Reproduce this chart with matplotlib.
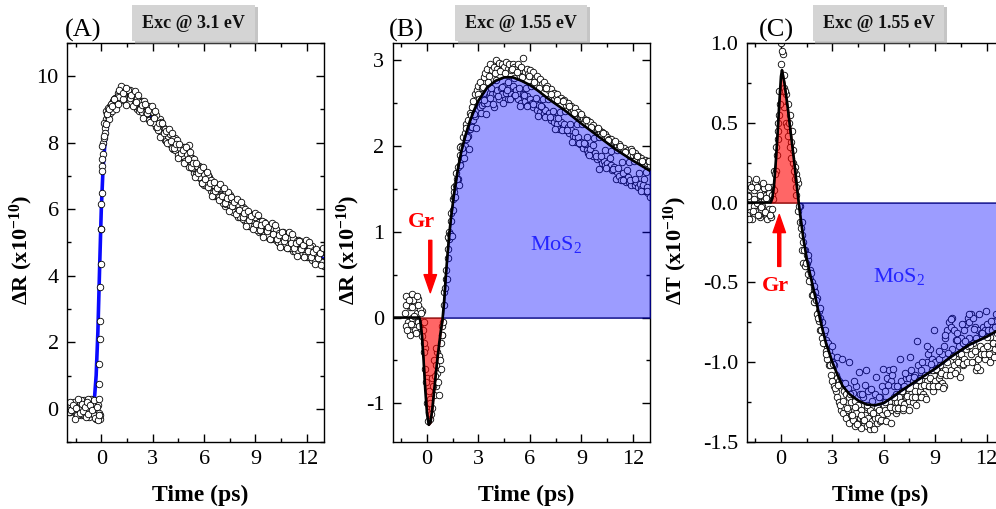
import numpy as np
import matplotlib
matplotlib.use("Agg")
import matplotlib.pyplot as plt
from matplotlib import patheffects
from matplotlib.ticker import MultipleLocator, FormatStrFormatter

NA = np.nan

# ─── Data ─────────────────────────────────────────────────────────────────────
# pump-probe delay grids (ps): scans 1/2 on DELAY, scan 3 on DELAY_MID
DELAY = [
    -2.0, -1.9, -1.8, -1.7, -1.6, -1.5, -1.4, -1.3, -1.2, -1.1,
    -1.0, -0.9, -0.8, -0.7, -0.6, -0.5, -0.4, -0.3, -0.2, -0.1,
    0.0, 0.1, 0.2, 0.3, 0.4, 0.5, 0.6, 0.7, 0.8, 0.9,
    1.0, 1.1, 1.2, 1.3, 1.4, 1.5, 1.6, 1.7, 1.8, 1.9,
    2.0, 2.1, 2.2, 2.3, 2.4, 2.5, 2.6, 2.7, 2.8, 2.9,
    3.0, 3.1, 3.2, 3.3, 3.4, 3.5, 3.6, 3.7, 3.8, 3.9,
    4.0, 4.1, 4.2, 4.3, 4.4, 4.5, 4.6, 4.7, 4.8, 4.9,
    5.0, 5.1, 5.2, 5.3, 5.4, 5.5, 5.6, 5.7, 5.8, 5.9,
    6.0, 6.1, 6.2, 6.3, 6.4, 6.5, 6.6, 6.7, 6.8, 6.9,
    7.0, 7.1, 7.2, 7.3, 7.4, 7.5, 7.6, 7.7, 7.8, 7.9,
    8.0, 8.1, 8.2, 8.3, 8.4, 8.5, 8.6, 8.7, 8.8, 8.9,
    9.0, 9.1, 9.2, 9.3, 9.4, 9.5, 9.6, 9.7, 9.8, 9.9,
    10.0, 10.1, 10.2, 10.3, 10.4, 10.5, 10.6, 10.7, 10.8, 10.9,
    11.0, 11.1, 11.2, 11.3, 11.4, 11.5, 11.6, 11.7, 11.8, 11.9,
    12.0, 12.1, 12.2, 12.3, 12.4, 12.5, 12.6, 12.7, 12.8, 12.9,
    13.0,
]
DELAY_MID = [
    -1.95, -1.85, -1.75, -1.65, -1.55, -1.45, -1.35, -1.25, -1.15, -1.05,
    -0.95, -0.85, -0.75, -0.65, -0.55, -0.45, -0.35, -0.25, -0.15, -0.05,
    0.05, 0.15, 0.25, 0.35, 0.45, 0.55, 0.65, 0.75, 0.85, 0.95,
    1.05, 1.15, 1.25, 1.35, 1.45, 1.55, 1.65, 1.75, 1.85, 1.95,
    2.05, 2.15, 2.25, 2.35, 2.45, 2.55, 2.65, 2.75, 2.85, 2.95,
    3.05, 3.15, 3.25, 3.35, 3.45, 3.55, 3.65, 3.75, 3.85, 3.95,
    4.05, 4.15, 4.25, 4.35, 4.45, 4.55, 4.65, 4.75, 4.85, 4.95,
    5.05, 5.15, 5.25, 5.35, 5.45, 5.55, 5.65, 5.75, 5.85, 5.95,
    6.05, 6.15, 6.25, 6.35, 6.45, 6.55, 6.65, 6.75, 6.85, 6.95,
    7.05, 7.15, 7.25, 7.35, 7.45, 7.55, 7.65, 7.75, 7.85, 7.95,
    8.05, 8.15, 8.25, 8.35, 8.45, 8.55, 8.65, 8.75, 8.85, 8.95,
    9.05, 9.15, 9.25, 9.35, 9.45, 9.55, 9.65, 9.75, 9.85, 9.95,
    10.05, 10.15, 10.25, 10.35, 10.45, 10.55, 10.65, 10.75, 10.85, 10.95,
    11.05, 11.15, 11.25, 11.35, 11.45, 11.55, 11.65, 11.75, 11.85, 11.95,
    12.05, 12.15, 12.25, 12.35, 12.45, 12.55, 12.65, 12.75, 12.85, 12.95,
]

# (A) dR, exc 3.1 eV  (x1e-10)
A_SCAN1 = [
    NA, 0.05, -0.1, 0.15, 0.0, -0.15, 0.2, 0.1, -0.2, 0.05,
    0.25, -0.05, 0.1, -0.25, 0.3, 0.0, -0.1, 0.15, -0.25, 2.1,
    6.15, 7.65, 8.45, 8.7, 8.8, 9.1, 9.0, 9.25, 9.1, 9.3,
    9.50, 9.30, 9.63, 9.40, 9.54, 9.22, 9.44, 9.58, 9.17, 9.29,
    9.37, 9.02, 9.23, 9.05, 9.26, 8.89, 9.10, 8.93, 8.67, 8.92,
    8.72, 8.88, 8.48, 8.62, 8.70, 8.33, 8.48, 8.09, 8.31, 8.36,
    7.97, 8.09, 7.80, 8.15, 7.82, 7.92, 7.56, 7.86, 7.65, 7.80,
    7.39, 7.93, 7.32, 7.54, 7.10, 7.34, 7.12, 7.31, 6.90, 7.07,
    6.73, 7.03, 6.78, 6.98, 6.55, 6.74, 6.41, 6.70, 6.43, 6.68,
    6.28, 6.44, 6.09, 6.45, 6.21, 6.42, 5.97, 6.23, 5.94, 6.22,
    5.78, 6.04, 5.82, 6.07, 5.65, 5.84, 5.50, 5.86, 5.61, 5.82,
    5.43, 5.65, 5.32, 5.64, 5.41, 5.63, 5.22, 5.45, 5.12, 5.43,
    5.18, 5.45, 5.07, 5.25, 4.97, 5.29, 5.06, 5.26, 4.86, 5.13,
    4.85, 5.10, 4.75, 4.98, 4.80, 5.08, 4.67, 4.93, 4.75, 4.96,
    4.55, 4.85, 4.60, 4.88, 4.50, 4.68, 4.40, 4.73, 4.45, 4.71,
    4.28,
]
A_SCAN2 = [
    NA, -0.1, 0.15, -0.05, 0.2, 0.05, -0.2, 0.0, 0.25, -0.15,
    0.1, -0.25, 0.3, 0.0, -0.1, 0.15, -0.2, -0.3, 0.1, -0.3,
    5.4, 8.0, 8.3, 8.95, 9.05, 8.9, 9.2, 9.05, 9.35, 9.2,
    9.25, 9.55, 9.28, 9.65, 9.34, 9.60, 9.19, 9.41, 9.47, 9.09,
    9.30, 9.35, 8.95, 9.23, 8.91, 9.26, 8.86, 9.09, 8.92, 8.62,
    8.92, 8.58, 8.83, 8.37, 8.55, 8.61, 8.21, 8.41, 8.05, 8.21,
    8.27, 7.84, 8.10, 7.78, 8.07, 7.64, 7.84, 7.59, 7.87, 7.45,
    7.66, 7.28, 7.57, 7.24, 7.50, 7.06, 7.29, 6.96, 7.23, 6.79,
    7.05, 6.73, 7.03, 6.66, 6.88, 6.48, 6.73, 6.43, 6.71, 6.36,
    6.63, 6.19, 6.46, 6.15, 6.51, 6.12, 6.32, 5.93, 6.21, 5.89,
    6.15, 5.76, 6.04, 5.72, 6.01, 5.59, 5.85, 5.51, 5.81, 5.50,
    5.78, 5.37, 5.62, 5.34, 5.64, 5.23, 5.52, 5.22, 5.49, 5.11,
    5.43, 5.13, 5.40, 5.00, 5.29, 4.99, 5.31, 4.96, 5.21, 4.83,
    5.12, 4.83, 5.13, 4.73, 5.05, 4.76, 5.05, 4.63, 4.95, 4.63,
    4.95, 4.55, 4.85, 4.48, 4.77, 4.45, 4.75, 4.38, 4.70, 4.41,
    4.70,
]
A_SCAN3 = [
    NA, 0.2, -0.05, 0.1, -0.3, 0.02, 0.28, -0.12, 0.15, -0.08,
    0.05, 0.2, -0.15, 0.12, -0.05, 0.25, -0.28, 0.05, -0.12, -0.2,
    7.3, 8.15, 8.6, 8.85, 8.7, 9.15, 8.95, 9.3, 9.0, 9.4,
    9.38, 9.70, 9.32, 9.50, 9.13, 9.59, 9.33, 9.44, 9.09, 9.57,
    9.22, 9.45, 9.01, 9.13, 8.73, 9.16, 8.88, 8.99, 8.62, 9.10,
    8.73, 8.94, 8.48, 8.58, 8.16, 8.58, 8.28, 8.36, 7.98, 8.42,
    8.06, 8.29, 7.83, 7.95, 7.54, 7.97, 7.68, 7.78, 7.40, 7.87,
    7.51, 7.73, 7.27, 7.38, 6.97, 7.38, 7.09, 7.18, 6.80, 7.26,
    6.90, 7.13, 6.68, 6.80, 6.40, 6.83, 6.55, 6.65, 6.28, 6.75,
    6.41, 6.64, 6.20, 6.33, 5.94, 6.38, 6.10, 6.21, 5.85, 6.32,
    5.98, 6.22, 5.78, 5.90, 5.51, 5.95, 5.68, 5.79, 5.42, 5.90,
    5.57, 5.82, 5.39, 5.53, 5.15, 5.60, 5.34, 5.46, 5.11, 5.60,
    5.27, 5.52, 5.09, 5.24, 4.86, 5.31, 5.05, 5.17, 4.83, 5.32,
    4.99, 5.25, 4.82, 4.97, 4.59, 5.05, 4.79, 4.92, 4.57, 5.07,
    4.74, 5.00, 4.57, 4.72, 4.34, 4.80, 4.54, 4.67, 4.32, 4.82,
]
# extra points on the steep rise of (A)
A_RISE_T = [-0.2, -0.15, -0.14, -0.12, -0.12, -0.08, -0.06, -0.04, -0.02, 0.02,
            0.04, 0.03, 0.06, 0.13, 0.15, 0.25, 0.35, 0.45, 0.6, 0.75,
            0.95, 1.05, 1.25, 1.45]
A_RISE_V = [-0.35, -0.2, 0.3, 0.75, 1.35, 2.65, 3.65, 4.35, 5.4, 6.5,
            7.15, 7.5, 7.9, 8.2, 8.6, 8.55, 8.85, 9.0, 9.1, 9.3,
            9.15, 9.6, 9.5, 9.65]
A_FIT_T = [-2.0, -0.5, -0.4, -0.3, -0.2, -0.1, 0.0, 0.1, 0.2, 0.3, 0.5, 0.7, 0.9, 1.2,
           1.5, 2.0, 2.5, 3.0, 4.0, 5.0, 6.0, 7.0, 8.0, 9.0, 10.0, 11.0, 12.0, 13.0]
A_FIT_V = [0.0, 0.0, 0.3, 1.0, 2.3, 4.2, 6.0, 7.2, 7.9, 8.35, 8.85, 9.1, 9.25, 9.35,
           9.33, 9.2, 8.98, 8.75, 8.15, 7.6, 7.05, 6.6, 6.15, 5.75, 5.4, 5.08, 4.78, 4.5]

# (B) dR, exc 1.55 eV  (x1e-10)
B_SCAN1 = [
    NA, NA, NA, NA, NA, NA, NA, 0.05, 0.25, -0.05,
    0.12, 0.28, -0.1, 0.18, 0.05, 0.22, -0.12, 0.08, -0.05, -0.35,
    -0.7, -1.1, -1.18, -1.05, -0.9, -0.8, -0.65, -0.9, -0.6, -0.2,
    0.15, 0.55, 0.8, 1.0, 1.22, 1.38, 1.52, 1.68, 1.75, 1.9,
    2.0, 2.1, 2.15, 2.25, 2.3, 2.38, 2.45, 2.52, 2.6, 2.65,
    2.7, 2.75, 2.68, 2.8, 2.85, 2.9, 2.82, 2.95, 2.88, 2.92,
    3.0, 2.9, 2.97, 2.88, 2.95, 2.92, 2.98, 2.9, 2.96, 2.88,
    2.95, 2.92, 2.9, 2.96, 2.88, 2.92, 3.02, 2.86, 2.9, 2.84,
    2.88, 2.82, 2.86, 2.78, 2.82, 2.75, 2.78, 2.72, 2.74, 2.68,
    2.7, 2.65, 2.66, 2.6, 2.62, 2.58, 2.6, 2.55, 2.56, 2.52,
    2.54, 2.48, 2.5, 2.45, 2.46, 2.42, 2.44, 2.38, 2.4, 2.35,
    2.36, 2.32, 2.3, 2.3, 2.26, 2.28, 2.22, 2.24, 2.2, 2.2,
    2.18, 2.15, 2.16, 2.12, 2.14, 2.1, 2.08, 2.08, 2.04, 2.05,
    2.02, 2.0, 2.02, 1.98, 1.96, 1.98, 1.94, 1.95, 1.9, 1.96,
    1.9, 1.92, 1.86, 1.88, 1.84, 1.86, 1.82, 1.84, 1.8, 1.82,
    1.78,
]
B_SCAN2 = [
    NA, NA, NA, NA, NA, NA, NA, NA, -0.1, 0.15,
    -0.2, 0.0, 0.2, -0.15, 0.25, -0.05, 0.1, -0.22, -0.3, -0.6,
    -1.0, -0.85, -0.95, -0.7, -0.5, -0.55, -0.4, -0.45, -0.3, -0.1,
    0.3, 0.45, 0.7, 0.92, 1.12, 1.25, 1.40, 1.55, 1.62, 1.78,
    1.85, 1.93, 2.0, 2.08, 2.12, 2.2, 2.22, 2.3, 2.35, 2.38,
    2.42, 2.45, 2.48, 2.5, 2.55, 2.5, 2.58, 2.62, 2.6, 2.45,
    2.62, 2.65, 2.55, 2.68, 2.6, 2.7, 2.62, 2.55, 2.68, 2.6,
    2.7, 2.58, 2.65, 2.55, 2.62, 2.5, 2.6, 2.52, 2.58, 2.48,
    2.55, 2.5, 2.45, 2.52, 2.42, 2.48, 2.4, 2.45, 2.38, 2.42,
    2.35, 2.38, 2.3, 2.35, 2.28, 2.32, 2.25, 2.2, 2.28, 2.22,
    2.25, 2.18, 2.22, 2.15, 2.18, 2.12, 2.1, 2.05, 2.1, 2.02,
    2.05, 1.98, 2.02, 1.95, 1.92, 1.96, 1.9, 1.88, 1.92, 1.85,
    1.73, 1.86, 1.8, 1.82, 1.78, 1.8, 1.75, 1.78, 1.72, 1.75,
    1.62, 1.7, 1.65, 1.6, 1.68, 1.62, 1.58, 1.64, 1.58, 1.55,
    1.6, 1.55, 1.58, 1.52, 1.56, 1.5, 1.54, 1.48, 1.52, 1.45,
    1.4,
]
B_SCAN3 = [
    NA, NA, NA, NA, NA, NA, NA, 0.15, -0.15, 0.2,
    -0.08, 0.12, 0.02, -0.18, 0.15, -0.1, 0.05, -0.15, -0.4, -0.75,
    -1.2, -1.0, -1.12, -0.8, -0.68, -0.35, -0.75, -0.5, -0.2, -0.05,
    0.35, 0.45, 0.94, 0.97, 0.95, 1.46, 1.40, 1.62, 1.54, 1.99,
    1.98, 1.86, 2.21, 2.10, 1.96, 2.36, 2.22, 2.37, 2.21, 2.61,
    2.55, 2.38, 2.69, 2.54, 2.37, 2.74, 2.56, 2.67, 2.49, 2.85,
    2.77, 2.58, 2.87, 2.69, 2.50, 2.85, 2.65, 2.75, 2.55, 2.90,
    2.79, 2.59, 2.86, 2.67, 2.46, 2.80, 2.59, 2.68, 2.47, 2.81,
    2.70, 2.49, 2.75, 2.56, 2.35, 2.68, 2.47, 2.55, 2.34, 2.67,
    2.55, 2.34, 2.60, 2.41, 2.20, 2.53, 2.32, 2.40, 2.19, 2.52,
    2.41, 2.19, 2.46, 2.26, 2.05, 2.38, 2.16, 2.25, 2.03, 2.37,
    2.25, 2.03, 2.30, 2.10, 1.89, 2.22, 2.01, 2.09, 1.88, 2.21,
    2.10, 1.88, 2.15, 1.95, 1.74, 2.07, 1.86, 1.94, 1.73, 2.06,
    1.95, 1.74, 2.00, 1.81, 1.60, 1.93, 1.72, 1.81, 1.60, 1.94,
    1.82, 1.61, 1.88, 1.69, 1.48, 1.82, 1.61, 1.70, 1.48, 1.82,
]
B_FIT_T = [-2.0, -0.45, -0.4, -0.3, -0.2, -0.1, 0.0, 0.1, 0.2, 0.3, 0.4, 0.5, 0.6, 0.7,
           0.8, 0.9, 1.0, 1.1, 1.2, 1.3, 1.4, 1.6, 1.8, 2.0, 2.25, 2.5, 2.75, 3.0,
           3.5, 4.0, 4.5, 5.0, 5.5, 6.0, 6.5, 7.0, 8.0, 9.0, 10.0, 11.0, 12.0, 13.0]
B_FIT_V = [0.0, 0.0, -0.03, -0.2, -0.5, -0.85, -1.12, -1.25, -1.22, -1.08, -0.88, -0.68,
           -0.49, -0.32, -0.16, -0.03, 0.2, 0.5, 0.75, 0.98, 1.17, 1.48, 1.73, 1.94,
           2.13, 2.29, 2.42, 2.53, 2.68, 2.76, 2.8, 2.8, 2.76, 2.71, 2.64, 2.56,
           2.42, 2.26, 2.11, 1.96, 1.83, 1.71]

# (C) dT, exc 1.55 eV  (x1e-10)
C_SCAN1 = [
    0.12, 0.05, -0.06, 0.1, -0.02, 0.13, 0.0, 0.07, -0.09, 0.11,
    0.02, -0.07, 0.08, -0.04, 0.03, 0.1, 0.2, 0.35, 0.5, 0.7,
    1.0, 0.93, 0.8, 0.68, 0.62, 0.45, 0.38, 0.25, 0.15, 0.05,
    -0.05, -0.12, -0.2, -0.25, -0.3, -0.38, -0.45, -0.48, -0.5, -0.55,
    -0.62, -0.6, -0.68, -0.72, -0.75, -0.82, -0.86, -0.9, -0.93, -0.96,
    -1.0, -1.02, -1.08, -1.1, -1.12, -1.13, -1.15, -1.18, -1.2, -1.16,
    -1.22, -1.25, -1.19, -1.24, -1.15, -1.27, -1.2, -1.3, -1.22, -1.14,
    -1.28, -1.18, -1.3, -1.24, -1.33, -1.2, -1.28, -1.35, -1.22, -1.15,
    -1.27, -1.18, -1.1, -1.05, -1.12, -1.08, -1.15, -1.2, -1.25, -1.22,
    -1.12, -1.18, -1.15, -1.1, -1.08, -1.1, -1.05, -1.12, -1.08, -1.15,
    -1.02, -1.1, -1.05, -1.12, -1.08, -1.0, -0.95, -0.92, -0.98, -1.05,
    -1.0, -1.05, -0.98, -1.02, -0.95, -0.9, -0.85, -0.8, -0.75, -0.78,
    -0.72, -0.8, -0.86, -0.82, -0.9, -0.85, -0.88, -0.8, -0.76, -0.72,
    -0.75, -0.7, -0.72, -0.78, -0.85, -0.8, -0.9, -0.82, -0.78, -0.8,
    -0.76, -0.8, -0.84, -0.8, -0.74, -0.78, -0.82, -0.78, -0.84, -0.8,
    -0.82,
]
C_SCAN2 = [
    -0.08, 0.15, 0.02, -0.1, 0.08, -0.05, 0.1, -0.08, 0.04, -0.02,
    0.09, 0.05, -0.1, 0.06, -0.09, -0.04, 0.08, 0.2, 0.4, 0.55,
    0.87, 0.7, 0.6, 0.5, 0.42, 0.55, 0.28, 0.33, 0.22, 0.18,
    0.12, -0.02, -0.3, -0.38, -0.4, -0.33, -0.36, -0.42, -0.58, -0.62,
    -0.56, -0.7, -0.74, -0.8, -0.85, -0.88, -0.93, -0.98, -1.02, -1.08,
    -1.12, -1.15, -1.18, -1.22, -1.25, -1.3, -1.32, -1.28, -1.35, -1.3,
    -1.38, -1.33, -1.36, -1.4, -1.32, -1.38, -1.35, -1.41, -1.36, -1.33,
    -1.4, -1.35, -1.42, -1.37, -1.4, -1.35, -1.38, -1.3, -1.37, -1.33,
    -1.36, -1.3, -1.32, -1.25, -1.28, -1.3, -1.22, -1.32, -1.3, -1.28,
    -1.25, -1.3, -1.26, -1.22, -1.2, -1.24, -1.2, -1.25, -1.18, -1.27,
    -1.22, -1.18, -1.15, -1.2, -1.22, -1.12, -1.15, -1.1, -1.05, -1.18,
    -1.12, -1.15, -1.1, -1.08, -1.13, -1.15, -1.05, -1.0, -0.95, -1.05,
    -0.92, -1.02, -0.98, -1.05, -1.0, -0.95, -1.02, -0.98, -0.92, -0.9,
    -0.85, -0.95, -0.88, -1.0, -1.05, -0.98, -1.05, -0.95, -0.92, -0.98,
    -0.9, -0.95, -1.0, -0.94, -0.88, -0.92, -0.96, -0.9, -0.95, -0.92,
    -0.9,
]
C_SCAN3 = [
    0.04, -0.1, 0.1, -0.05, 0.02, 0.15, -0.08, 0.05, -0.03, 0.12,
    -0.06, 0.03, 0.1, -0.08, 0.05, 0.02, 0.18, 0.3, 0.45, 0.62,
    0.95, 0.72, 0.7, 0.48, 0.5, 0.35, 0.45, 0.2, 0.1, 0.15,
    -0.02, -0.16, -0.12, -0.3, -0.38, -0.33, -0.49, -0.44, -0.58, -0.52,
    -0.61, -0.72, -0.66, -0.8, -0.88, -0.8, -0.95, -0.88, -1.02, -0.9,
    -1.01, -1.16, -0.97, -1.14, -1.27, -0.98, -1.24, -1.13, -1.29, -1.0,
    -1.2, -1.33, -1.12, -1.28, -1.39, -1.06, -1.33, -1.2, -1.36, -1.05,
    -1.27, -1.39, -1.17, -1.32, -1.42, -1.09, -1.35, -1.22, -1.36, -1.04,
    -1.25, -1.37, -1.14, -1.28, -1.38, -1.04, -1.29, -1.15, -1.29, -0.98,
    -1.18, -1.29, -1.07, -1.21, -1.3, -0.97, -1.22, -1.09, -1.22, -0.87,
    -1.11, -1.22, -1.0, -1.14, -1.23, -0.9, -1.15, -1.01, -1.15, -0.8,
    -1.04, -1.15, -0.93, -1.07, -1.16, -0.83, -1.08, -0.94, -1.08, -0.73,
    -0.96, -1.07, -0.86, -1.0, -1.09, -0.76, -1.01, -0.87, -1.0, -0.7,
    -0.89, -1.0, -0.79, -0.93, -1.03, -0.7, -0.95, -0.82, -0.95, -0.68,
    -0.84, -0.95, -0.74, -0.88, -0.97, -0.7, -0.89, -0.76, -0.89, -0.72,
]
C_FIT_T = [-2.0, -0.6, -0.5, -0.4, -0.3, -0.2, -0.1, 0.0, 0.06, 0.2, 0.4, 0.6, 0.8,
           1.0, 1.1, 1.3, 1.5, 1.7, 2.0, 2.3, 2.6, 3.0, 3.3, 3.6, 4.0, 4.5, 5.0,
           5.5, 6.0, 6.5, 7.0, 8.0, 9.0, 10.0, 11.0, 12.0, 13.0]
C_FIT_V = [0.0, 0.0, 0.03, 0.12, 0.26, 0.43, 0.62, 0.79, 0.83, 0.75, 0.59, 0.41, 0.23,
           0.03, -0.06, -0.22, -0.35, -0.45, -0.59, -0.74, -0.87, -1.0, -1.08, -1.15,
           -1.2, -1.24, -1.265, -1.27, -1.255, -1.22, -1.18, -1.11, -1.04, -0.96,
           -0.89, -0.84, -0.78]

# ─── Global style ─────────────────────────────────────────────────────────────
plt.rcParams.update({
    "font.family": ["Liberation Serif", "DejaVu Serif"],
    "mathtext.fontset": "custom",
    "mathtext.rm": "Liberation Serif",
    "mathtext.it": "Liberation Serif:italic",
    "mathtext.bf": "Liberation Serif:bold",
    "axes.unicode_minus": False,
    "axes.linewidth": 1.0,
    "xtick.direction": "in",
    "ytick.direction": "in",
    "xtick.top": True,
    "ytick.right": True,
    "xtick.major.size": 5.5,
    "ytick.major.size": 5.5,
    "xtick.minor.size": 3,
    "ytick.minor.size": 3,
    "xtick.major.width": 1,
    "ytick.major.width": 1,
    "xtick.minor.width": 1,
    "ytick.minor.width": 1,
    "xtick.labelsize": 16,
    "ytick.labelsize": 16,
    "xtick.major.pad": 6,
    "ytick.major.pad": 6,
})

FILL_BLUE = (0.0, 0.0, 1.0, 0.39)
FILL_RED = (1.0, 0.0, 0.0, 0.6)
EDGE_BLUE = "#000080"
EDGE_RED = "#8b0000"
DOT = dict(ls="none", marker="o", ms=4.7, mfc="white", mec="black", mew=0.6)


def scatter(ax, t, v):
    ax.plot(t, v, zorder=2, **DOT)


def frame(ax, ylim, ymaj, ymin, yfmt, ylabel, ylab_x, tag, tag_x, exc, exc_x):
    ax.set_xlim(-2, 13)
    ax.set_ylim(*ylim)
    ax.xaxis.set_major_locator(MultipleLocator(3))
    ax.xaxis.set_minor_locator(MultipleLocator(1.5))
    ax.yaxis.set_major_locator(MultipleLocator(ymaj))
    ax.yaxis.set_minor_locator(MultipleLocator(ymin))
    ax.yaxis.set_major_formatter(FormatStrFormatter(yfmt))
    ax.tick_params(which="both", top=True, right=True)

    ax.set_xlabel("Time (ps)", fontsize=17, fontweight="bold")
    ax.xaxis.set_label_coords(0.52, -0.108)
    ax.set_ylabel(ylabel, fontsize=16, fontweight="bold")
    ax.yaxis.set_label_coords(ylab_x, 0.48)

    ax.text(tag_x, 1.015, tag, transform=ax.transAxes, fontsize=19, va="baseline")

    # grey tag with a small drop shadow
    box = ax.text(exc_x, 1.05, exc, transform=ax.transAxes, ha="center", va="center",
                  fontsize=13, fontweight="bold", color="#111111",
                  bbox=dict(boxstyle="square,pad=0.55", fc="#d4d4d4", ec="none"))
    box.get_bbox_patch().set_path_effects([
        patheffects.SimplePatchShadow(offset=(2, -2), shadow_rgbFace="#808080", alpha=0.45),
        patheffects.Normal(),
    ])


def arrow(ax, x, y_from, y_to):
    ax.annotate("", xy=(x, y_to), xytext=(x, y_from),
                arrowprops=dict(arrowstyle="simple,head_length=1.3,head_width=0.9,tail_width=0.22",
                                color="red", shrinkA=0, shrinkB=0, mutation_scale=10),
                zorder=6)


def fills(ax, t, v, pos_face, pos_edge, neg_face, neg_edge):
    t = np.asarray(t)
    v = np.asarray(v)
    ax.fill_between(t, v, 0, where=v > 0, interpolate=True, zorder=3,
                    facecolor=pos_face, edgecolor=pos_edge, lw=1)
    ax.fill_between(t, v, 0, where=v < 0, interpolate=True, zorder=3,
                    facecolor=neg_face, edgecolor=neg_edge, lw=1)


def panel_a(ax):
    ax.plot(A_FIT_T, A_FIT_V, color="#0a0aff", lw=2.6, zorder=1.5)
    scatter(ax, DELAY, A_SCAN1)
    scatter(ax, DELAY, A_SCAN2)
    scatter(ax, DELAY_MID, A_SCAN3)
    scatter(ax, A_RISE_T, A_RISE_V)
    frame(ax, (-1, 11), 2, 1, "%d", r"ΔR (x10$^{\mathbf{-10}}$)", -0.125,
          "(A)", -0.008, "Exc @ 3.1 eV", 0.492)


def panel_b(ax):
    scatter(ax, DELAY, B_SCAN1)
    scatter(ax, DELAY, B_SCAN2)
    scatter(ax, DELAY_MID, B_SCAN3)
    fills(ax, B_FIT_T, B_FIT_V, FILL_BLUE, EDGE_BLUE, FILL_RED, EDGE_RED)
    ax.plot(B_FIT_T, B_FIT_V, color="black", lw=1.9, zorder=4)
    arrow(ax, 0.19, 0.90, 0.29)
    ax.text(-0.3, 1.06, "Gr", color="red", fontsize=16, fontweight="bold",
            ha="center", va="baseline", zorder=6)
    ax.text(6.0, 0.79, r"MoS$_2$", color="#2525ff", fontsize=16,
            ha="left", va="baseline", zorder=6)
    frame(ax, (-1.45, 3.2), 1, 0.5, "%d", r"ΔR (x10$^{\mathbf{-10}}$)", -0.119,
          "(B)", -0.014, "Exc @ 1.55 eV", 0.50)


def panel_c(ax):
    scatter(ax, DELAY, C_SCAN1)
    scatter(ax, DELAY, C_SCAN2)
    scatter(ax, DELAY_MID, C_SCAN3)
    fills(ax, C_FIT_T, C_FIT_V, FILL_RED, EDGE_RED, FILL_BLUE, EDGE_BLUE)
    ax.plot(C_FIT_T, C_FIT_V, color="black", lw=1.9, zorder=4)
    arrow(ax, -0.1, -0.40, -0.075)
    ax.text(-0.31, -0.556, "Gr", color="red", fontsize=16, fontweight="bold",
            ha="center", va="baseline", zorder=6)
    ax.text(5.37, -0.50, r"MoS$_2$", color="#2525ff", fontsize=16,
            ha="left", va="baseline", zorder=6)
    frame(ax, (-1.5, 1.0), 0.5, 0.25, "%.1f", r"ΔT (x10$^{\mathbf{-10}}$)", -0.224,
          "(C)", 0.048, "Exc @ 1.55 eV", 0.513)


def run():
    fig = plt.figure(figsize=(9.96, 5.09), dpi=100)
    ax_a = fig.add_axes([0.0673, 0.1316, 0.258, 0.784])
    ax_b = fig.add_axes([0.3943, 0.1316, 0.2583, 0.784])
    ax_c = fig.add_axes([0.7497, 0.1316, 0.258, 0.784])
    panel_a(ax_a)
    panel_b(ax_b)
    panel_c(ax_c)
    fig.savefig("out.png", dpi=100, facecolor="white")
    plt.close(fig)


if __name__ == "__main__":
    run()
